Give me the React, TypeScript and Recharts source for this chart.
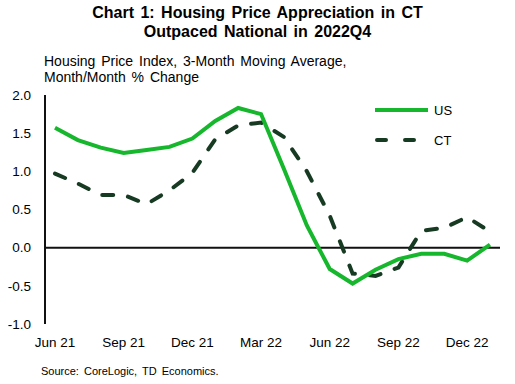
import React from "react";
import {
  Line,
  LineChart,
  ReferenceLine,
  XAxis,
  YAxis,
} from "recharts";

const MONTHS = [
  "Jun 21", "Jul 21", "Aug 21", "Sep 21", "Oct 21", "Nov 21", "Dec 21",
  "Jan 22", "Feb 22", "Mar 22", "Apr 22", "May 22", "Jun 22", "Jul 22",
  "Aug 22", "Sep 22", "Oct 22", "Nov 22", "Dec 22", "Jan 23",
];
const US = [
  1.57, 1.41, 1.31, 1.24, 1.28, 1.32, 1.43, 1.66, 1.83, 1.75,
  1.03, 0.29, -0.28, -0.47, -0.29, -0.15, -0.08, -0.08, -0.17, 0.04,
];
const CT = [
  0.97, 0.84, 0.69, 0.69, 0.57, 0.75, 0.98, 1.42, 1.6, 1.64,
  1.45, 1.0, 0.42, -0.34, -0.37, -0.26, 0.22, 0.26, 0.4, 0.21,
];
const X_TICKS = ["Jun 21", "Sep 21", "Dec 21", "Mar 22", "Jun 22", "Sep 22", "Dec 22"];
const Y_TICKS = [-1, -0.5, 0, 0.5, 1, 1.5, 2];

const US_COLOR = "#16b72c";
const CT_COLOR = "#163b22";
const FONT = "'Liberation Sans', Arial, sans-serif";

const data = MONTHS.map((m, i) => ({ month: m, US: US[i], CT: CT[i] }));

function LegendBox() {
  return (
    <svg width={90} height={50} style={{ overflow: "visible", display: "block" }}>
      <line x1={0} y1={5} x2={53} y2={5} stroke={US_COLOR} strokeWidth={4} />
      <text x={59} y={10} fontSize={13} fill="#000" fontFamily={FONT}>US</text>
      <line x1={2} y1={35} x2={39} y2={35} stroke={CT_COLOR} strokeWidth={4} strokeDasharray="9 19" strokeLinecap="round" />
      <text x={59} y={40} fontSize={13} fill="#000" fontFamily={FONT}>CT</text>
    </svg>
  );
}

export default function App() {
  return (
    <div
      style={{
        position: "absolute",
        left: 0,
        top: 0,
        width: 515,
        height: 384,
        background: "#fff",
        fontFamily: FONT,
      }}
    >
      <div
        style={{
          position: "absolute",
          top: 3,
          left: 0,
          width: 515,
          textAlign: "center",
          fontWeight: "bold",
          fontSize: 16,
          lineHeight: "19px",
          wordSpacing: 2,
          color: "#000",
        }}
      >
        Chart 1: Housing Price Appreciation in CT
        <br />
        Outpaced National in 2022Q4
      </div>
      <div
        style={{
          position: "absolute",
          top: 53,
          left: 44,
          fontSize: 14,
          lineHeight: "16px",
          wordSpacing: 2,
          color: "#000",
        }}
      >
        Housing Price Index, 3-Month Moving Average,
        <br />
        Month/Month % Change
      </div>
      <div
        style={{
          position: "absolute",
          top: 365,
          left: 41,
          fontSize: 11,
          wordSpacing: 2,
          color: "#000",
        }}
      >
        Source: CoreLogic, TD Economics.
      </div>
      <LineChart
        width={515}
        height={384}
        data={data}
        margin={{ top: 95, right: 15, bottom: 0, left: 0 }}
        style={{ position: "absolute", left: 0, top: 0 }}
      >
        <XAxis
          dataKey="month"
          ticks={X_TICKS}
          interval={0}
          axisLine={false}
          tickLine={false}
          padding={{ left: 10, right: 10 }}
          tick={{ fontSize: 13.5, fill: "#000", fontFamily: FONT }}
          tickMargin={7}
          height={60}
        />
        <YAxis
          domain={[-1, 2]}
          ticks={Y_TICKS}
          interval={0}
          tickFormatter={(v: number) => v.toFixed(1)}
          axisLine={{ stroke: "#111", strokeWidth: 2 }}
          tickLine={false}
          tick={{ fontSize: 13.5, fill: "#000", fontFamily: FONT }}
          width={45}
          tickMargin={8}
        />
        <ReferenceLine y={0} stroke="#111" strokeWidth={2} />
        <Line
          type="linear"
          dataKey="CT"
          stroke={CT_COLOR}
          strokeWidth={4}
          strokeDasharray="11 15"
          strokeLinecap="round"
          dot={false}
          isAnimationActive={false}
        />
        <Line
          type="linear"
          dataKey="US"
          stroke={US_COLOR}
          strokeWidth={4}
          dot={false}
          isAnimationActive={false}
        />
      </LineChart>
      <div style={{ position: "absolute", left: 375, top: 105 }}>
        <LegendBox />
      </div>
    </div>
  );
}
